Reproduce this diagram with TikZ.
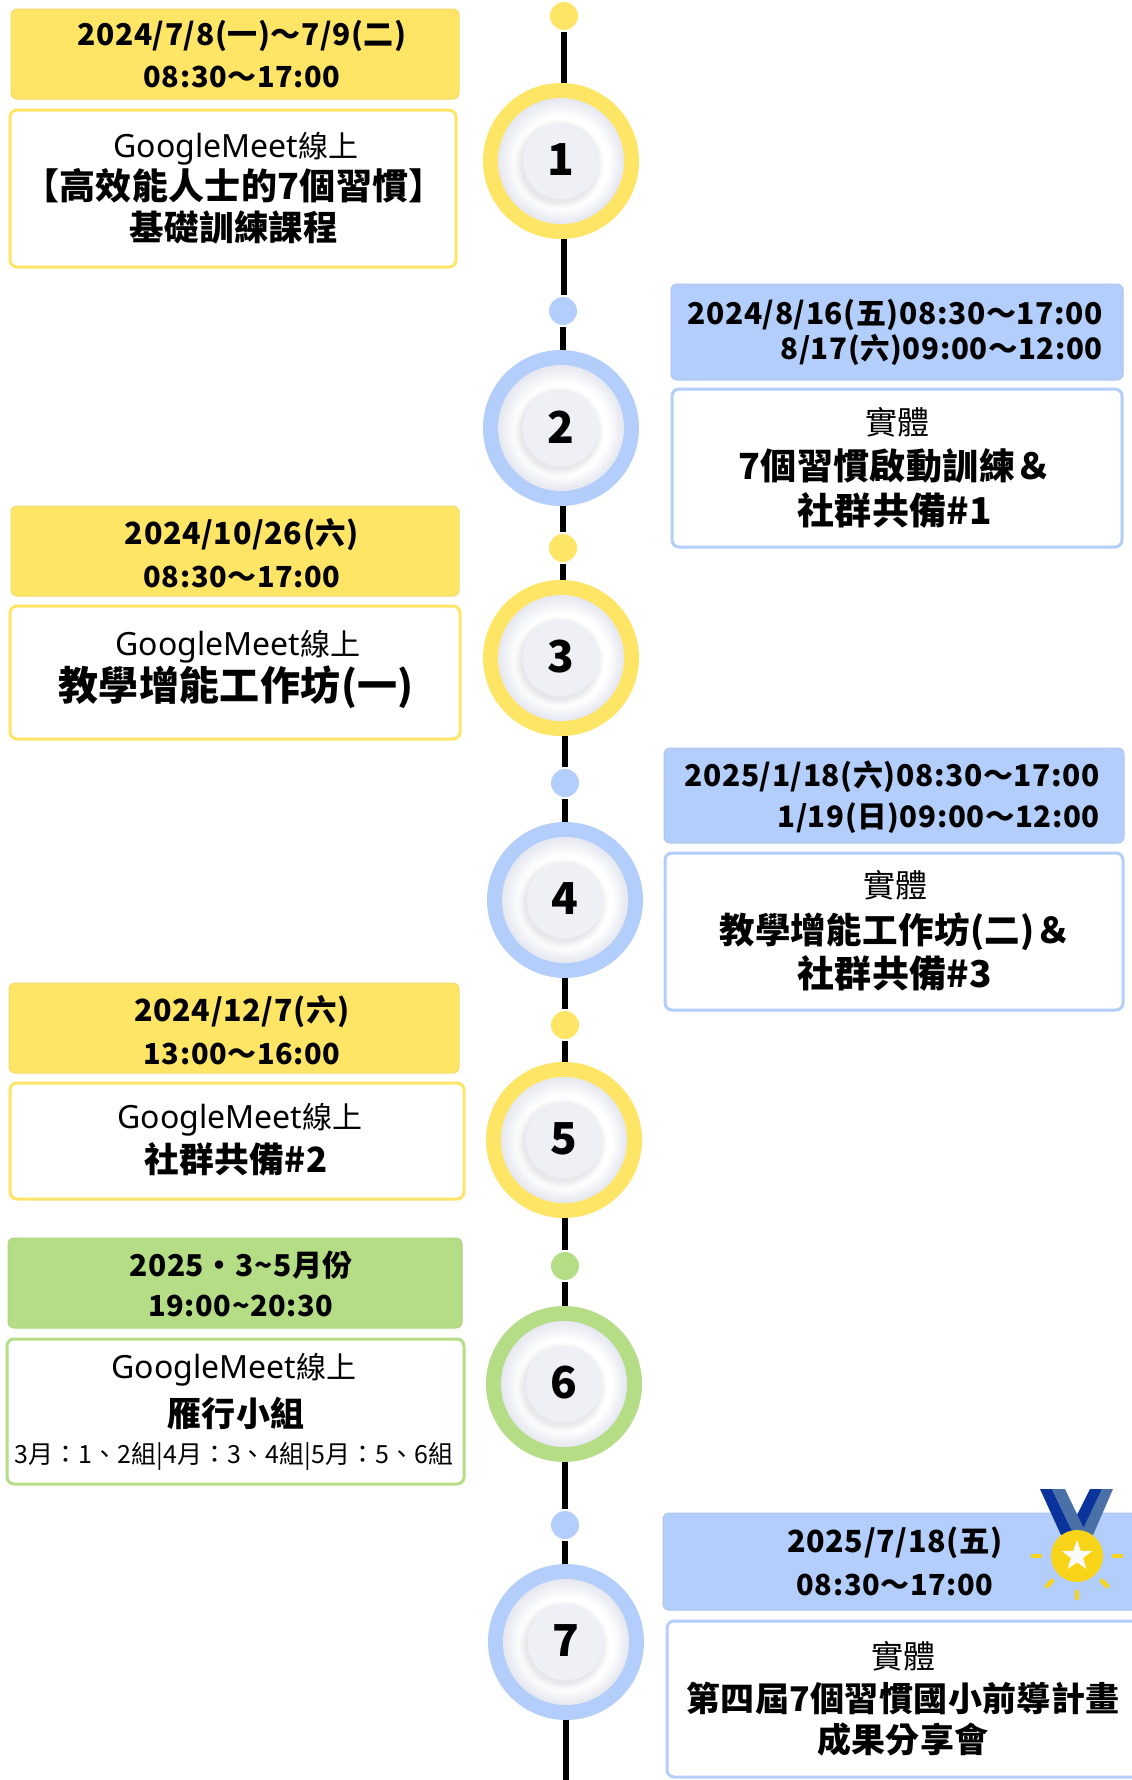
\documentclass[tikz,border=0pt]{standalone}
\usepackage{fontspec}
\usetikzlibrary{shapes.geometric}
\setmainfont{Noto Sans CJK TC}
\newfontfamily\dtf[LetterSpace=2]{Noto Sans CJK TC}
\newfontfamily\ttlf[LetterSpace=1]{Noto Sans CJK TC}
\newfontfamily\latf{Noto Sans}
\newcommand\strutx{\rule[-.12em]{0pt}{1em}}
\newcommand\fs[1]{\fontsize{#1}{#1}\selectfont}
\newcommand\dte[1]{\dtf\bfseries\fs{#1}}
\newcommand\ttl[1]{\ttlf\bfseries\fs{#1}}
\newcommand\viaf{\fs{32}}
\newcommand\gm{{\latf\fs{32}GoogleMeet}\fs{30}線上}
\definecolor{cy}{HTML}{FFE566}
\definecolor{cb}{HTML}{B3CEFB}
\definecolor{cg}{HTML}{B5DD86}
\definecolor{discbase}{HTML}{EEF0F6}
\definecolor{discedge}{HTML}{E6E8F0}
\tikzset{
 x=1pt,y=-1pt,
 datebox/.style={rectangle,rounded corners=6pt,inner sep=0pt,fill=#1,draw=#1!90!gray,line width=1pt},
 bodybox/.style={rectangle,rounded corners=7pt,inner sep=0pt,fill=white,draw=#1,line width=3pt},
 dotnode/.style={circle,fill=#1,inner sep=0pt,minimum size=28pt,outer sep=2pt},
 ringnode/.style={circle,fill=#1,inner sep=0pt,minimum size=156pt,outer sep=0pt},
 numnode/.style={inner sep=0pt,font=\bfseries\fs{44}},
 txt/.style={inner sep=0pt,anchor=center},
 spine/.style={line width=6.5pt,black},
}
\newcommand\pbox[7]{% name style color x1 y1 x2 y2
 \pgfmathsetmacro\bw{#6-#4}\pgfmathsetmacro\bh{#7-#5}
 \pgfmathsetmacro\bx{(#4+#6)/2}\pgfmathsetmacro\by{(#5+#7)/2}
 \node[#2=#3,minimum width=\bw pt,minimum height=\bh pt] (#1) at (\bx,\by) {};}
\newcommand\tl[5]{\node[txt] (#1) at (#2,#3) {#4\strutx #5};}
\newcommand\ring[5]{% name x y color number
 \node[ringnode=#4] (#1) at (#2,#3) {};
 \foreach \r in {63,62,...,39}{%
  \pgfmathtruncatemacro\m{min(100,(63-\r)*100/16)}%
  \fill[white!\m!discedge] ({#2+(63-\r)*.1},{#3+(63-\r)*.1}) circle (\r);}
 \foreach \r in {45,44,43,42,41,40,39,38}{\fill[black!70!blue,opacity=.011] (#2-2,#3+3.5) circle (\r);}
 \fill[discbase] (#2,#3) circle (38);
 \node[numnode] (#1n) at (#2,#3-1) {#5};}
\begin{document}
\begin{tikzpicture}
\path[use as bounding box,fill=white] (0,0) rectangle (1132,1780);
\clip (0,0) rectangle (1132,1780);
% timeline nodes
\node[dotnode=cy] (d1) at (564,16) {};
\node[dotnode=cb] (d2) at (563,311) {};
\node[dotnode=cy] (d3) at (563,548) {};
\node[dotnode=cb] (d4) at (565,783) {};
\node[dotnode=cy] (d5) at (565,1025) {};
\node[dotnode=cg] (d6) at (565,1266) {};
\node[dotnode=cb] (d7) at (565,1525) {};
\ring{c1}{561}{161}{cy}{1}
\ring{c2}{561}{428}{cb}{2}
\ring{c3}{561}{658}{cy}{3}
\ring{c4}{565}{900}{cb}{4}
\ring{c5}{564}{1140}{cy}{5}
\ring{c6}{564}{1384}{cg}{6}
\ring{c7}{566}{1642}{cb}{7}
\coordinate (tend) at (566,1780);
\draw[spine] (d1.south) -- (d1.south |- c1.north);
\draw[spine] (d1.south |- c1.south) -- (d1.south |- d2.north);
\draw[spine] (d2.south) -- (d2.south |- c2.north);
\draw[spine] (d2.south |- c2.south) -- (d3.north);
\draw[spine] (d3.south) -- (d3.south |- c3.north);
\draw[spine] (d4.north |- c3.south) -- (d4.north);
\draw[spine] (d4.south) -- (d4.south |- c4.north);
\draw[spine] (d5.north |- c4.south) -- (d5.north);
\draw[spine] (d5.south) -- (d5.south |- c5.north);
\draw[spine] (d6.north |- c5.south) -- (d6.north);
\draw[spine] (d6.south) -- (d6.south |- c6.north);
\draw[spine] (d7.north |- c6.south) -- (d7.north);
\draw[spine] (d7.south) -- (d7.south |- c7.north);
\draw[spine] (c7.south -| tend) -- (tend);
% step 1
\pbox{a1}{datebox}{cy}{11}{9}{459}{99}
\pbox{b1}{bodybox}{cy}{10}{110}{456}{267}
\tl{a1x}{242}{35}{\dte{30}}{2024/7/8(一)～7/9(二)}
\tl{a1y}{242}{76}{\dte{29}}{08:30～17:00}
\tl{b1x}{236}{149}{}{\gm}
\tl{b1y}{234}{186}{\ttl{36}}{【高效能人士的7個習慣】}
\tl{b1z}{234}{227}{\ttl{34.5}}{基礎訓練課程}
% step 2
\pbox{a2}{datebox}{cb}{671}{284}{1123}{380}
\pbox{b2}{bodybox}{cb}{672}{389}{1122}{547}
\node[txt,anchor=east] (a2x) at (1103,314) {\dte{30}\strutx 2024/8/16(五)08:30～17:00};
\node[txt,anchor=east] (a2y) at (1103,350) {\dte{29.5}\strutx 8/17(六)09:00～12:00};
\tl{b2x}{897}{422}{\viaf}{實體}
\tl{b2y}{895}{466}{\ttl{36}}{7個習慣啟動訓練＆}
\tl{b2z}{895}{510}{\ttl{37}}{社群共備\#1}
% step 3
\pbox{a3}{datebox}{cy}{11}{506}{459}{596}
\pbox{b3}{bodybox}{cy}{10}{606}{460}{739}
\tl{a3x}{242}{534}{\dte{30.5}}{2024/10/26(六)}
\tl{a3y}{242}{576}{\dte{29}}{08:30～17:00}
\tl{b3x}{238}{647}{}{\gm}
\tl{b3y}{236}{687}{\ttl{40}}{教學增能工作坊(一)}
% step 4
\pbox{a4}{datebox}{cb}{664}{748}{1124}{843}
\pbox{b4}{bodybox}{cb}{665}{853}{1123}{1010}
\node[txt,anchor=east] (a4x) at (1100,776) {\dte{30}\strutx 2025/1/18(六)08:30～17:00};
\node[txt,anchor=east] (a4y) at (1100,818) {\dte{29.5}\strutx 1/19(日)09:00～12:00};
\tl{b4x}{895}{885}{\viaf}{實體}
\tl{b4y}{895}{932}{\ttl{35.5}}{教學增能工作坊(二)＆}
\tl{b4z}{895}{973}{\ttl{37}}{社群共備\#3}
% step 5
\pbox{a5}{datebox}{cy}{9}{983}{459}{1073}
\pbox{b5}{bodybox}{cy}{10}{1083}{464}{1199}
\tl{a5x}{242}{1011}{\dte{30.5}}{2024/12/7(六)}
\tl{a5y}{242}{1053}{\dte{29}}{13:00～16:00}
\tl{b5x}{240}{1120}{}{\gm}
\tl{b5y}{236}{1159}{\ttl{34.7}}{社群共備\#2}
% step 6
\pbox{a6}{datebox}{cg}{8}{1238}{462}{1328}
\pbox{b6}{bodybox}{cg}{7}{1339}{464}{1484}
\tl{a6x}{241}{1265}{\dte{30}}{2025・3\textasciitilde5月份}
\tl{a6y}{241}{1305}{\dte{29}}{19:00\textasciitilde20:30}
\tl{b6x}{234}{1370}{}{\gm}
\tl{b6y}{236}{1414}{\ttl{34}}{雁行小組}
\tl{b6z}{234}{1456}{\fs{25}}{3月：1、2組|4月：3、4組|5月：5、6組}
% step 7
\pbox{a7}{datebox}{cb}{663}{1513}{1150}{1610}
\pbox{b7}{bodybox}{cb}{667}{1621}{1150}{1777}
\tl{a7x}{895}{1542}{\dte{30.5}}{2025/7/18(五)}
\tl{a7y}{895}{1584}{\dte{29}}{08:30～17:00}
\tl{b7x}{903}{1656}{\viaf}{實體}
\tl{b7y}{903}{1699}{\ttl{34}}{第四屆7個習慣國小前導計畫}
\tl{b7z}{903}{1740}{\ttl{34}}{成果分享會}
% medal
\definecolor{rdark}{HTML}{0B339C}
\definecolor{rlight}{HTML}{4A70A8}
\definecolor{gold}{HTML}{F7D417}
\fill[rlight] (1113,1489)--(1102,1489)--(1080,1535)--(1093,1535)--cycle;
\fill[rdark] (1102,1489)--(1090,1489)--(1067,1535)--(1080,1535)--cycle;
\fill[rdark] (1040,1489)--(1052,1489)--(1074,1535)--(1061,1535)--cycle;
\fill[rlight] (1052,1489)--(1065,1489)--(1087,1535)--(1074,1535)--cycle;
\fill[gold] (1077,1556) circle (26);
\node[star,star points=5,star point ratio=2.5,fill=white!96!gray,inner sep=0pt,minimum size=32pt] (medalstar) at (1077,1556) {};
\draw[gold,line width=4.5pt,line cap=round] (1033,1556)--(1040,1556);
\draw[gold,line width=4.5pt,line cap=round] (1114,1556)--(1121,1556);
\draw[gold,line width=4.5pt,line cap=round] (1047,1586)--(1052,1581);
\draw[gold,line width=4.5pt,line cap=round] (1102,1581)--(1107,1586);
\draw[gold,line width=4.5pt,line cap=round] (1077,1592)--(1077,1598);
\end{tikzpicture}
\end{document}
